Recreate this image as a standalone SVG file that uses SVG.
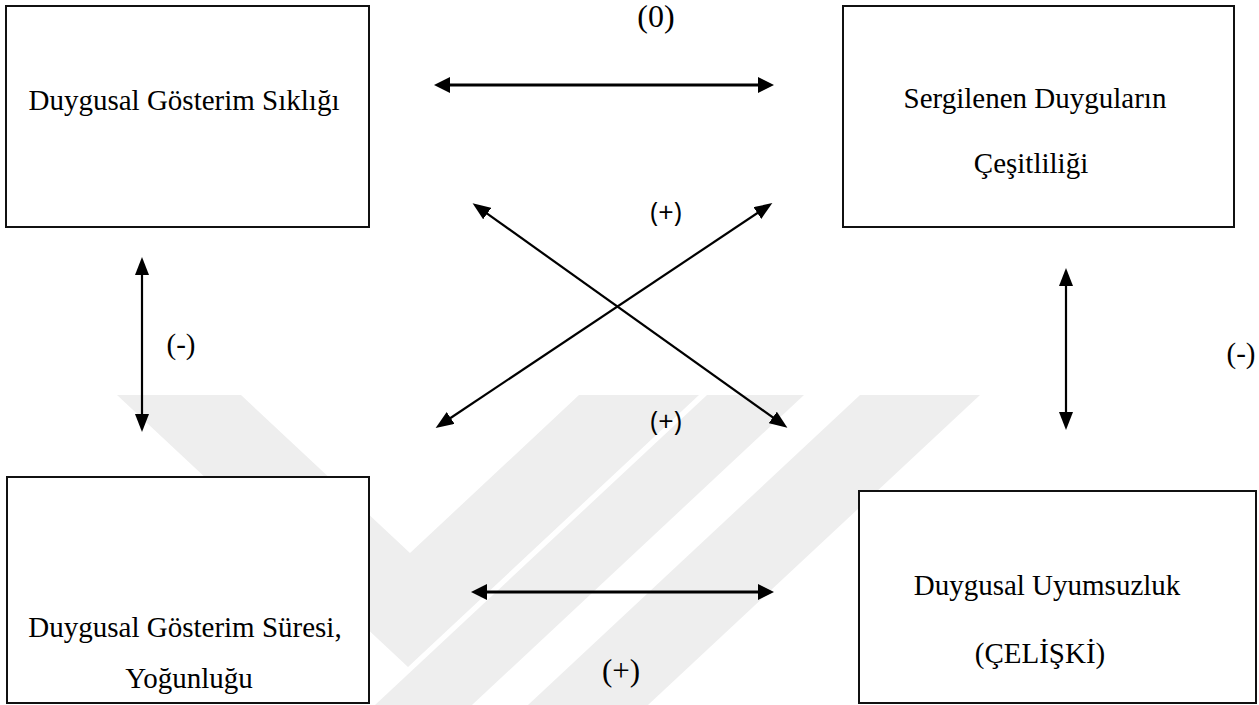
<svg xmlns="http://www.w3.org/2000/svg" width="1259" height="705" viewBox="0 0 1259 705">
<style>
.box{fill:#fff;stroke:#111;stroke-width:2}
.t{font-family:"Liberation Serif","Times New Roman",serif;font-size:29px;fill:#000;text-anchor:middle}
.s{font-family:"Open Sans","Noto Sans",sans-serif;font-size:27px;fill:#000;text-anchor:middle}
.c{stroke:#000;fill:none}
.h{stroke-width:3}
.d{stroke-width:2.2}
.wm{fill:#eeeeee}
</style>
<defs>
<marker id="ah" markerUnits="userSpaceOnUse" viewBox="0 0 16 16" refX="8" refY="8" markerWidth="16" markerHeight="16" orient="auto-start-reverse"><path d="M0,0 L16,8 L0,16 z" fill="#000"/></marker>
<marker id="ad" markerUnits="userSpaceOnUse" viewBox="0 0 18 14" refX="10" refY="7" markerWidth="18" markerHeight="14" orient="auto-start-reverse"><path d="M0,0 L18,7 L0,14 z" fill="#000"/></marker>
</defs>
<rect width="1259" height="705" fill="#fff"/>
<g id="watermark">
<polygon class="wm" points="117,395 241,395 410,553 579,395 699,395 408,667"/>
<polygon class="wm" points="707,395 804,395 472,705 375,705"/>
<polygon class="wm" points="860,395 980,395 648,705 528,705"/>
</g>
<g id="n1"><rect class="box" x="6" y="6" width="363" height="221"/><text class="t" x="184" y="110">Duygusal Gösterim Sıklığı</text></g>
<g id="n2"><rect class="box" x="843" y="6" width="391" height="221"/><text class="t" x="1035" y="108">Sergilenen Duyguların</text><text class="t" x="1031" y="173">Çeşitliliği</text></g>
<g id="n3"><rect class="box" x="7" y="477" width="362" height="226"/><text class="t" x="185" y="637">Duygusal Gösterim Süresi,</text><text class="t" x="189" y="688">Yoğunluğu</text></g>
<g id="n4"><rect class="box" x="859" y="491" width="397" height="212"/><text class="t" x="1047" y="595">Duygusal Uyumsuzluk</text><text class="t" x="1040" y="663">(ÇELİŞKİ)</text></g>
<g id="connectors">
<line class="c h" x1="442" y1="85" x2="766" y2="85" marker-start="url(#ah)" marker-end="url(#ah)"/>
<line class="c h" x1="479" y1="592" x2="766" y2="592" marker-start="url(#ah)" marker-end="url(#ah)"/>
<line class="c d" x1="142" y1="265" x2="142" y2="424" marker-start="url(#ad)" marker-end="url(#ad)"/>
<line class="c d" x1="1066" y1="276" x2="1066" y2="422" marker-start="url(#ad)" marker-end="url(#ad)"/>
<line class="c d" x1="479.1" y1="207.8" x2="780.9" y2="423.2" marker-start="url(#ad)" marker-end="url(#ad)"/>
<line class="c d" x1="765.7" y1="207.5" x2="442.3" y2="423.5" marker-start="url(#ad)" marker-end="url(#ad)"/>
</g>
<g id="labels">
<text class="t" x="656" y="27" style="font-size:32px">(0)</text>
<text class="s" x="666" y="222">(+)</text>
<text class="s" x="666" y="431">(+)</text>
<text class="t" x="181" y="354">(-)</text>
<text class="t" x="1241" y="363">(-)</text>
<text class="t" x="621" y="681" style="font-size:31px">(+)</text>
</g>
</svg>
